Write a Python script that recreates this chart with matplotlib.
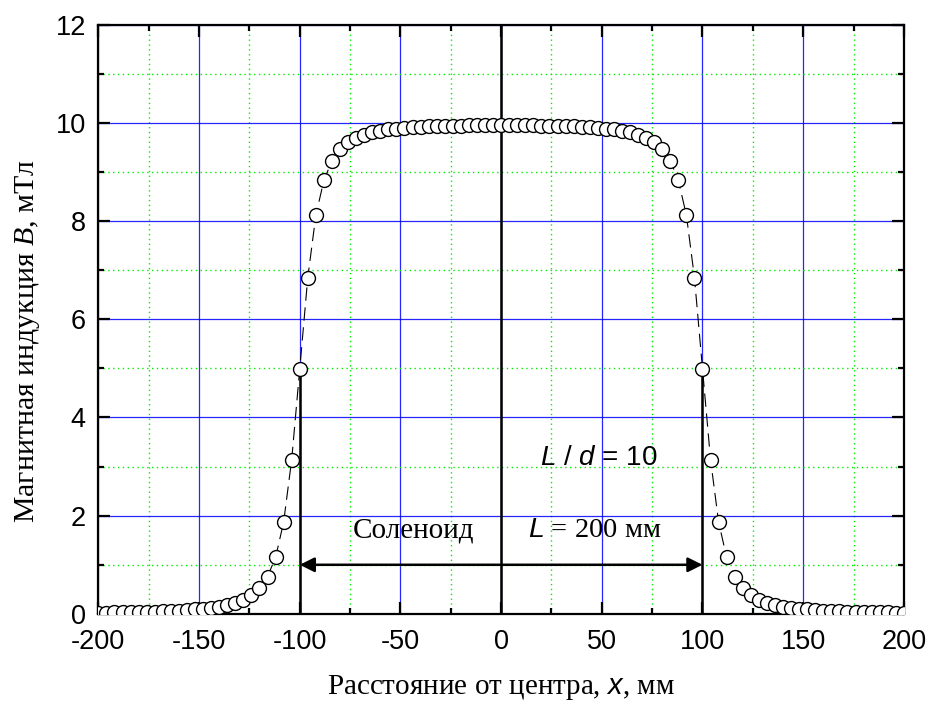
import matplotlib
matplotlib.use("Agg")
import matplotlib.pyplot as plt
import numpy as np

# magnetic field along the solenoid axis, points every 4 mm
x_mm = np.arange(-200, 201, 4)
b_right = [9.95, 9.95, 9.95, 9.95, 9.95, 9.94, 9.94, 9.94, 9.93, 9.93,
           9.92, 9.91, 9.90, 9.88, 9.87, 9.84, 9.81, 9.76, 9.70, 9.61,
           9.46, 9.23, 8.83, 8.12, 6.85, 4.99, 3.14, 1.87, 1.15, 0.76,
           0.52, 0.38, 0.29, 0.22, 0.18, 0.15, 0.12, 0.10, 0.09, 0.07,
           0.06, 0.06, 0.05, 0.04, 0.04, 0.04, 0.03, 0.03, 0.03, 0.02,
           0.02]
b_left = [0.02, 0.02, 0.03, 0.03, 0.03, 0.04, 0.04, 0.04, 0.05, 0.06,
          0.06, 0.07, 0.09, 0.10, 0.12, 0.15, 0.18, 0.22, 0.29, 0.38,
          0.52, 0.76, 1.15, 1.87, 3.14, 4.99, 6.85, 8.12, 8.83, 9.23,
          9.46, 9.61, 9.70, 9.76, 9.81, 9.84, 9.87, 9.88, 9.90, 9.91,
          9.92, 9.93, 9.93, 9.94, 9.94, 9.94, 9.95, 9.95, 9.95, 9.95]
b_mT = b_left + b_right

x_ticks = [-200, -150, -100, -50, 0, 50, 100, 150, 200]
y_ticks = [0, 2, 4, 6, 8, 10, 12]
coil_ends = [-100, 100]
arrow_y = 1.0

plt.rcParams["mathtext.fontset"] = "custom"
plt.rcParams["mathtext.it"] = "Liberation Sans:italic"
plt.rcParams["mathtext.rm"] = "Liberation Sans"
plt.rcParams["mathtext.cal"] = "Liberation Serif:italic"

fig = plt.figure(figsize=(9.28, 7.04), dpi=100)
ax = fig.add_axes([0.106, 0.128, 0.868, 0.837])

ax.set_xlim(-200, 200)
ax.set_ylim(0, 12)
ax.set_xticks(x_ticks)
ax.set_yticks(y_ticks)
ax.set_xticks(np.arange(-175, 200, 50), minor=True)
ax.set_yticks(np.arange(1, 12, 2), minor=True)
ax.set_xticklabels([str(v) for v in x_ticks], family="Liberation Sans", fontsize=19.5)
ax.set_yticklabels([str(v) for v in y_ticks], family="Liberation Sans", fontsize=19.5)

ax.grid(which="major", color="#0000ff", lw=0.9, ls="-", alpha=0.85)
ax.grid(which="minor", color="#00ee00", lw=1.0, ls=(0, (1, 2.5)))
ax.set_axisbelow(True)

ax.tick_params(which="both", direction="in", top=True, right=True, width=1.6)
ax.tick_params(which="major", length=8.5)
ax.tick_params(which="minor", length=4.5)
ax.tick_params(axis="x", pad=11)
ax.tick_params(axis="y", pad=9)
for s in ax.spines.values():
    s.set_linewidth(1.6)

# centre line and coil ends
ax.axvline(0, color="k", lw=1.8, zorder=2)
for xe in coil_ends:
    ax.plot([xe, xe], [0, 5.0], color="k", lw=1.8, zorder=2)

ax.annotate("", xy=(coil_ends[0], arrow_y), xytext=(coil_ends[1], arrow_y),
            arrowprops=dict(arrowstyle="<|-|>", color="k", lw=1.8,
                            mutation_scale=22, shrinkA=0, shrinkB=0),
            zorder=3)

ax.plot(x_mm, b_mT, color="k", lw=0.8, dashes=(12, 6), zorder=3)
ax.plot(x_mm, b_mT, ls="none", marker="o", ms=10, mfc="white", mec="k",
        mew=1.0, zorder=4)

ax.text(-43.5, 1.7, "Соленоид", family="Liberation Serif", fontsize=21,
        ha="center", va="center")
ax.text(46.5, 1.7, "$L$ = 200 мм", family="Liberation Serif", fontsize=20.5,
        ha="center", va="center")
ax.text(48.5, 3.17, "$L$ / $d$ = 10", family="Liberation Sans", fontsize=20,
        ha="center", va="center")

ax.set_xlabel("Расстояние от центра, $x$, мм", family="Liberation Serif",
              fontsize=21)
ax.set_ylabel(r"Магнитная индукция $\mathcal{B}$, мТл", family="Liberation Serif",
              fontsize=21.5)
ax.xaxis.set_label_coords(0.5, -0.100)
ax.yaxis.set_label_coords(-0.07, 0.4635)

fig.savefig("out.png", dpi=100)
plt.close(fig)
